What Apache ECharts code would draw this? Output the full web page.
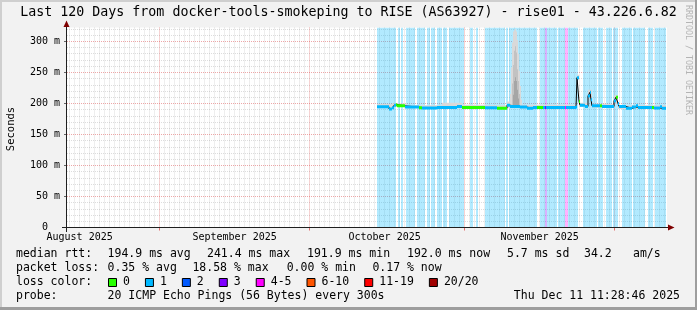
<!DOCTYPE html>
<html><head><meta charset="utf-8">
<script src="https://cdn.jsdelivr.net/npm/echarts@6/dist/echarts.min.js"></script>
<style>html,body{margin:0;padding:0;background:#f2f2f2}#c{width:697px;height:310px}</style>
</head><body><div id="c"></div>
<script>
// x values: days since graph start (2025-08-13 11:28:46), span 120 days
const monthStarts = [18.52, 48.52, 79.52, 109.52];          // Sep 1, Oct 1, Nov 1, Dec 1
const monthLabelPos = [2.52, 33.52, 63.52, 94.52];          // 16th of each month
const monthLabels = ['August 2025', 'September 2025', 'October 2025', 'November 2025'];
const yMajorTicks = [0, 50, 100, 150, 200, 250, 300];
const yMinorTicks = [10, 20, 30, 40, 60, 70, 80, 90, 110, 120, 130, 140, 160, 170, 180, 190,
                     210, 220, 230, 240, 260, 270, 280, 290, 310, 320];

const lossLabels = ['0', '1', '2', '3', '4-5', '6-10', '11-19', '20/20'];
const lossColors = ['#26ff00', '#00b8ff', '#0059ff', '#7e00ff', '#ff00ff', '#ff5500', '#ff0000', '#a00000'];

// loss background bands: [startDay, endDay, lossClass]
const bgBands = [
  [62.0, 65.8, 1], [66.2, 66.6, 1], [66.8, 67.2, 1], [67.8, 69.6, 1], [70.0, 71.6, 1],
  [72.0, 72.6, 1], [72.8, 73.6, 1], [74.0, 75.0, 1], [75.2, 76.0, 1], [76.4, 79.4, 1],
  [80.6, 81.2, 1], [81.8, 82.2, 1], [83.6, 87.6, 1], [87.8, 88.2, 1], [88.4, 94.0, 1],
  [94.6, 95.6, 1], [95.6, 96.0, 3], [96.0, 98.0, 1], [98.2, 99.6, 1], [99.6, 100.2, 4],
  [100.2, 102.2, 1], [103.2, 106.0, 1], [106.2, 107.2, 1], [107.8, 109.0, 1], [109.2, 110.2, 1],
  [111.0, 113.0, 1], [113.2, 115.6, 1], [116.2, 117.2, 1], [117.6, 119.8, 1]
];

// smoke (ping spread): [startDay, endDay, lowMs, highMs, shade]
const smokeShades = ['#d9d9d9', '#c2c2c2', '#a6a6a6'];
const smokeSegs = [
  [62.0, 65.0, 193, 199, 0], [65.0, 68.0, 194, 200, 0], [68.0, 75.0, 192, 197, 0],
  [75.0, 79.0, 192, 201, 0], [79.0, 84.0, 192, 198, 0], [84.0, 88.0, 191, 197, 0],
  [88.0, 88.6, 192, 203, 0], [88.6, 88.8, 193, 215, 0], [88.8, 89.0, 193, 258, 0],
  [89.0, 89.2, 193, 298, 0], [89.2, 89.4, 193, 316, 0], [89.4, 89.6, 193, 318, 0],
  [89.6, 89.8, 193, 320, 0], [89.8, 90.0, 193, 316, 0], [90.0, 90.2, 193, 302, 0],
  [90.2, 90.4, 193, 280, 0], [90.4, 90.6, 193, 252, 0], [90.6, 90.8, 193, 228, 0],
  [90.8, 91.0, 193, 206, 0],
  [89.0, 89.2, 193, 232, 1], [89.2, 89.4, 193, 262, 1], [89.4, 89.6, 193, 285, 1],
  [89.6, 89.8, 193, 292, 1], [89.8, 90.0, 193, 282, 1], [90.0, 90.2, 193, 255, 1],
  [90.2, 90.4, 193, 236, 1], [90.4, 90.6, 193, 215, 1],
  [89.2, 89.4, 193, 214, 2], [89.4, 89.6, 193, 236, 2], [89.6, 89.8, 193, 242, 2],
  [89.8, 90.0, 193, 236, 2], [90.0, 90.2, 193, 222, 2], [90.2, 90.4, 193, 208, 2],
  [91.0, 101.8, 192, 198, 0], [102.0, 102.4, 238, 246, 0], [102.4, 104.2, 194, 201, 0],
  [104.2, 105.0, 208, 222, 0], [105.0, 109.4, 193, 199, 0], [109.4, 110.2, 200, 213, 0],
  [110.2, 119.8, 191, 197, 0]
];

// median rtt: [startDay, endDay, medianMs, lossClass]
const medianSegs = [
  [62.0, 64.4, 194.5, 1], [64.4, 65.0, 191, 1], [65.0, 65.4, 193, 1], [65.4, 65.8, 197, 1],
  [65.8, 66.0, 198, 0], [66.0, 67.6, 196, 0], [67.6, 70.4, 194, 1], [70.4, 71.0, 193, 0],
  [71.0, 74.0, 192.5, 1], [74.0, 78.0, 193.5, 1], [78.0, 79.0, 195, 1], [79.0, 83.6, 193.5, 0],
  [83.6, 86.0, 193, 1], [86.0, 88.0, 192, 0], [88.0, 88.6, 197, 1], [88.6, 90.6, 195, 1],
  [90.6, 92.0, 194, 1], [92.0, 93.2, 192, 1], [93.2, 94.0, 193.5, 1], [94.0, 95.2, 193.5, 0],
  [95.2, 95.6, 193.5, 1], [95.6, 95.8, 193.5, 3], [95.8, 99.6, 193.5, 1], [99.6, 99.8, 193.5, 4],
  [99.8, 101.8, 193.5, 1], [101.8, 102.0, 194, 1], [102.0, 102.4, 241.5, 1], [102.4, 102.6, 203, 0],
  [102.6, 103.6, 197, 1], [103.6, 104.2, 195, 1], [104.2, 104.6, 212, 1], [104.6, 104.8, 218, 1],
  [104.8, 105.0, 206, 1], [105.0, 106.6, 196, 1], [106.6, 107.0, 196, 0], [107.0, 109.4, 195, 1],
  [109.4, 109.8, 204, 1], [109.8, 110.2, 210, 0], [110.2, 110.4, 200, 1], [110.4, 111.8, 195, 1],
  [111.8, 113.0, 192, 1], [113.0, 113.8, 194, 1], [113.8, 114.2, 196, 1], [114.2, 117.0, 193.5, 1],
  [117.0, 117.4, 193.5, 0], [117.4, 118.6, 192.5, 1], [118.6, 119.0, 194.5, 1], [119.0, 119.8, 192, 1]
];

const titleText = 'Last 120 Days from docker-tools-smokeping to RISE (AS63927) - rise01 - 43.226.6.82';
const rttStats = ['194.9 ms avg', '241.4 ms max', '191.9 ms min', '192.0 ms now', '5.7 ms sd', '34.2', 'am/s'];
const lossStats = ['0.35 % avg', '18.58 % max', '0.00 % min', '0.17 % now'];
const probeText = '20 ICMP Echo Pings (56 Bytes) every 300s';
const stampText = 'Thu Dec 11 11:28:46 2025';

// ---- layout ----
const Y_MAX = 322.3;
const MONO = '"DejaVu Sans Mono", monospace';
const LEG = '11.5px ' + MONO;
const CW = 6.93;
const dailyTicks = [];
for (let d = 0.52; d < 120; d += 1) {
  const v = Math.round(d * 100) / 100;
  if (monthStarts.indexOf(v) < 0) dailyTicks.push(v);
}
const medianLine = [];
medianSegs.forEach(s => { medianLine.push([s[0], s[2]]); medianLine.push([s[1], s[2]]); });

const graphics = [];
function txt(x, y, text, opts) {
  graphics.push(Object.assign({ type: 'text', x: x, y: y, silent: true,
    style: Object.assign({ text: text, font: LEG, fill: '#000', textAlign: 'left', textVerticalAlign: 'middle' }, (opts && opts.style) || {}) },
    opts && opts.el || {}));
}
// frame
graphics.push({ type: 'rect', shape: { x: 0, y: 0, width: 697, height: 2 }, style: { fill: '#cfcfcf' }, silent: true });
graphics.push({ type: 'rect', shape: { x: 0, y: 0, width: 2, height: 310 }, style: { fill: '#cfcfcf' }, silent: true });
graphics.push({ type: 'rect', shape: { x: 0, y: 307, width: 697, height: 3 }, style: { fill: '#9e9e9e' }, silent: true });
graphics.push({ type: 'rect', shape: { x: 695, y: 0, width: 2, height: 310 }, style: { fill: '#9e9e9e' }, silent: true });
// axes lines and arrows
graphics.push({ type: 'line', shape: { x1: 62, y1: 227.5, x2: 670, y2: 227.5 }, style: { stroke: '#1f1f1f', lineWidth: 1 }, z: 10, silent: true });
graphics.push({ type: 'line', shape: { x1: 66.5, y1: 232, x2: 66.5, y2: 24 }, style: { stroke: '#1f1f1f', lineWidth: 1 }, z: 10, silent: true });
graphics.push({ type: 'polygon', shape: { points: [[668, 224.5], [674.5, 227.5], [668, 230.5]] }, style: { fill: '#7f0000' }, z: 10, silent: true });
graphics.push({ type: 'polygon', shape: { points: [[63.5, 27], [66.5, 20.5], [69.5, 27]] }, style: { fill: '#7f0000' }, z: 10, silent: true });
// title, unit, watermark
txt(348.5, 13, titleText, { style: { font: '13.3px ' + MONO, textAlign: 'center' } });
txt(11, 129, 'Seconds', { style: { font: '10.5px ' + MONO, textAlign: 'center' }, el: { rotation: Math.PI / 2 } });
txt(688, 5, 'RRDTOOL / TOBI OETIKER', { style: { font: '8.3px ' + MONO, fill: '#b4b4b4' }, el: { rotation: -Math.PI / 2 } });
// legend rows
const R1 = 254.5, R2 = 268.5, R3 = 282.5, R4 = 296.5;
txt(16, R1, 'median rtt:');
[107.6, 207, 307, 407, 507, 584, 633].forEach((x, i) => txt(x, R1, rttStats[i]));
txt(16, R2, 'packet loss:');
[107.6, 192.4, 286.7, 372.4].forEach((x, i) => txt(x, R2, lossStats[i]));
txt(16, R3, 'loss color:');
let bx = 108;
lossLabels.forEach((lab, i) => {
  graphics.push({ type: 'rect', shape: { x: bx + 0.5, y: R3 - 4, width: 8, height: 8 },
    style: { fill: lossColors[i], stroke: '#000', lineWidth: 1 }, silent: true });
  txt(bx + 15, R3, lab);
  bx += 15 + lab.length * CW + 15;
});
txt(16, R4, 'probe:');
txt(107.6, R4, probeText);
txt(680, R4, stampText, { style: { textAlign: 'right' } });

function rectItem(x0, x1, y0, y1, fill, opacity) {
  return { type: 'rect', shape: { x: Math.min(x0, x1), y: Math.min(y0, y1), width: Math.abs(x1 - x0), height: Math.abs(y1 - y0) },
    style: { fill: fill, opacity: opacity } };
}

const option = {
  animation: false,
  backgroundColor: '#f2f2f2',
  grid: { left: 67, top: 27.5, width: 600, height: 200, show: true, backgroundColor: '#ffffff', borderWidth: 0 },
  xAxis: [
    { type: 'value', min: 0, max: 120,
      axisLine: { show: false },
      axisTick: { show: true, customValues: monthStarts, length: 3, lineStyle: { color: 'rgba(222,80,80,0.8)' } },
      axisLabel: { customValues: monthLabelPos, margin: 5, color: '#000', fontFamily: MONO, fontSize: 10,
        formatter: v => { const i = monthLabelPos.findIndex(p => Math.abs(p - v) < 0.01); return i >= 0 ? monthLabels[i] : ''; } },
      splitLine: { show: true, lineStyle: { color: 'rgba(222,80,80,0.5)', type: [1, 1], width: 1 } } },
    { type: 'value', min: 0, max: 120, position: 'bottom',
      axisLine: { show: false }, axisLabel: { show: false },
      axisTick: { show: false, customValues: dailyTicks },
      splitLine: { show: true, lineStyle: { color: 'rgba(143,143,143,0.3)', type: [1, 1], width: 1 } } }
  ],
  yAxis: [
    { type: 'value', min: 0, max: Y_MAX,
      axisLine: { show: false },
      axisTick: { show: true, customValues: yMajorTicks, length: 3, lineStyle: { color: '#666' } },
      axisLabel: { customValues: yMajorTicks, margin: 7, color: '#000', fontFamily: MONO, fontSize: 10,
        formatter: v => v === 0 ? '0  ' : v + ' m' },
      splitLine: { show: true, lineStyle: { color: 'rgba(222,80,80,0.5)', type: [1, 1], width: 1 } } },
    { type: 'value', min: 0, max: Y_MAX, position: 'left',
      axisLine: { show: false }, axisLabel: { show: false },
      axisTick: { show: false, customValues: yMinorTicks },
      splitLine: { show: true, lineStyle: { color: 'rgba(143,143,143,0.3)', type: [1, 1], width: 1 } } }
  ],
  graphic: { elements: graphics },
  series: [
    { type: 'custom', name: 'loss background', data: bgBands, clip: true, silent: true, z: 1,
      encode: { x: [0, 1] },
      renderItem: (p, api) => {
        const a = api.coord([api.value(0), Y_MAX]);
        const b = api.coord([api.value(1), 0]);
        return rectItem(a[0], b[0], a[1], b[1], lossColors[api.value(2)], 0.3);
      } },
    { type: 'custom', name: 'smoke', data: smokeSegs, clip: true, silent: true, z: 2,
      encode: { x: [0, 1], y: [2, 3] },
      renderItem: (p, api) => {
        const a = api.coord([api.value(0), api.value(3)]);
        const b = api.coord([api.value(1), api.value(2)]);
        return rectItem(a[0], b[0], a[1], b[1], smokeShades[api.value(4)], 1);
      } },
    { type: 'line', name: 'median', data: medianLine, showSymbol: false, silent: true, z: 3,
      lineStyle: { color: '#000', width: 1 } },
    { type: 'custom', name: 'median loss', data: medianSegs, clip: true, silent: true, z: 4,
      encode: { x: [0, 1], y: 2 },
      renderItem: (p, api) => {
        const a = api.coord([api.value(0), api.value(2)]);
        const b = api.coord([api.value(1), api.value(2)]);
        return rectItem(a[0], b[0], a[1] - 1.5, a[1] + 1.5, lossColors[api.value(3)], 1);
      } }
  ]
};
const chart = echarts.init(document.getElementById('c'), null, { width: 697, height: 310 });
chart.setOption(option);
</script></body></html>
